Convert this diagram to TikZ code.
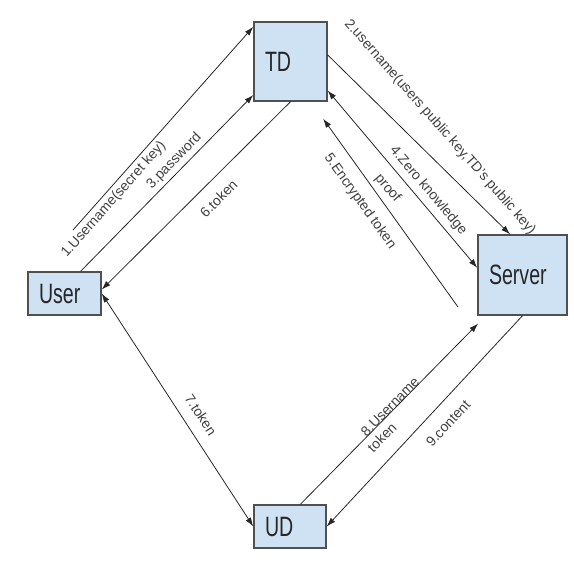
\documentclass[tikz,border=0pt]{standalone}
\usepackage{fontspec}
\setmainfont{Liberation Sans}
\newfontfamily\boxfont[FakeStretch=0.7]{Liberation Sans}
\usetikzlibrary{arrows.meta}
\definecolor{boxfill}{HTML}{CFE2F3}
\definecolor{boxline}{HTML}{505050}
\definecolor{wirecol}{HTML}{262626}

\begin{document}
\begin{tikzpicture}[x=1pt, y=-1pt,
    box/.style={draw=boxline, line width=1.4pt, fill=boxfill, align=left, inner xsep=11pt, inner ysep=0pt,
      font=\boxfont\fontsize{28}{30}\selectfont, text=black!85},
    wire/.style={draw=wirecol, line width=0.8pt, >={Latex[length=9pt, width=6pt]}},
    lbl/.style={font=\fontsize{14}{16}\selectfont, text=black!75, sloped}]
  \useasboundingbox (0,0) rectangle (574,574);
  % the four parties
  \node[box, text width=51pt, minimum width=73pt, minimum height=79pt] (td) at (290.5,61.5) {TD};
  \node[box, text width=51pt, minimum width=73pt, minimum height=43pt] (user) at (64.5,293.5) {User};
  \node[box, text width=67pt, minimum width=89pt, minimum height=80pt] (server) at (522.5,275) {Server};
  \node[box, text width=50pt, minimum width=72pt, minimum height=43pt] (ud) at (290,526.5) {UD};
  \coordinate (keystart) at (73,230);
  \coordinate (encstart) at (458,307);

  % user <-> TD
  \draw[wire, ->] (keystart) -- (td.137) node[lbl, pos=0.183, below] {1.Username(secret key)};
  \draw[wire, ->] (user.54) -- (td.222) node[lbl, pos=0.585, above] {3.password};
  \draw[wire, ->] (td.south) -- (user.6) node[lbl, pos=0.448, below=9pt] {6.token};
  % TD <-> server
  \draw[wire, ->] (td.10) -- (server.107) node[lbl, pos=0.508, above=17pt, rotate=-4] {2.username(users public key,TD's public key)};
  \draw[wire, <->] (td.-38) -- (server.171)
    node[lbl, pos=0.61, above=2pt] {4.Zero knowledge}
    node[lbl, pos=0.489, below=7pt] {proof};
  \draw[wire, ->, shorten >=21pt] (encstart) -- (td.297) node[lbl, pos=0.566, below=8pt] {5.Encrypted token};
  % user, UD and server
  \draw[wire, <->] (user.east) -- (ud.west) node[lbl, pos=0.56, above=8pt] {7.token};
  \draw[wire, ->, shorten >=11pt] (ud.65) -- (server.228)
    node[lbl, pos=0.501, above=-4pt] {8.Username}
    node[lbl, pos=0.396, below=2.5pt] {token};
  \draw[wire, ->] (server.south) -- (ud.east) node[lbl, pos=0.45, below=10pt] {9.content};

\end{tikzpicture}
\end{document}
